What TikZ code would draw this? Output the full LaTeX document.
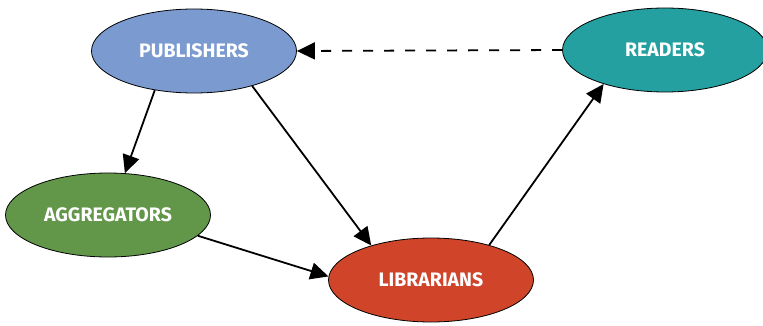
\documentclass[tikz,border=0pt]{standalone}
\usepackage{fontspec}
\setmainfont{Fira Sans}
\usepackage{xcolor}
\usepackage{tikz}
\usetikzlibrary{arrows.meta, shapes.geometric}
\definecolor{pub_blue}{HTML}{7B9BD0}
\definecolor{read_teal}{HTML}{24A0A0}
\definecolor{agg_green}{HTML}{62974A}
\definecolor{lib_red}{HTML}{D0452A}

\begin{document}
\begin{tikzpicture}[x=1pt, y=1pt,
    every node/.style={font=\fontsize{19.5}{22}\selectfont\bfseries, text=white},
    actor/.style={ellipse, draw=black, line width=0.8pt, minimum width=205pt, minimum height=84pt, inner sep=0pt},
    link/.style={line width=1.8pt, -{Triangle[length=18pt, width=17pt]}}]

    % Fix the page size
    \useasboundingbox (0,0) rectangle (763,325);

    % Draw the four groups
    \node[actor, fill=pub_blue] (pub) at (194,274) {PUBLISHERS};
    \node[actor, fill=read_teal] (readers) at (665,275) {READERS};
    \node[actor, fill=agg_green] (agg) at (108,110) {AGGREGATORS};
    \node[actor, fill=lib_red] (lib) at (431,45) {LIBRARIANS};

    % Draw the links between them
    \draw[link, dash pattern=on 10pt off 11pt] (readers.west) -- (pub.east);
    \draw[link] (pub.225) -- (agg.68);
    \draw[link] (pub.329) -- (lib.150);
    \draw[link] (agg.347) -- (lib.178);
    \draw[link] (lib.31) -- (readers.209);

\end{tikzpicture}
\end{document}
